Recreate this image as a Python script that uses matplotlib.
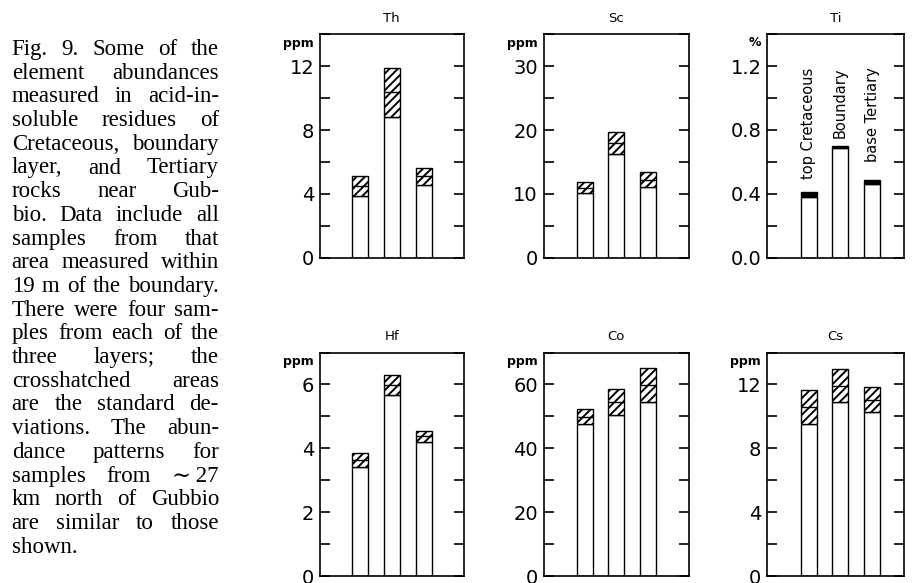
import numpy as np
import matplotlib
matplotlib.use("Agg")
import matplotlib.pyplot as plt
from matplotlib.ticker import MultipleLocator, FormatStrFormatter

plt.rcParams['hatch.linewidth'] = 1.4

# values: mean and standard deviation, three layers per element
layers = ['top Cretaceous', 'Boundary', 'base Tertiary']

th_mean = [4.5, 10.35, 5.1]
th_sd = [0.6, 1.55, 0.55]
sc_mean = [11.0, 17.95, 12.25]
sc_sd = [0.85, 1.7, 1.15]
ti_mean = [0.397, 0.695, 0.475]
ti_sd = [0.013, 0.006, 0.015]
hf_mean = [3.62, 5.98, 4.38]
hf_sd = [0.22, 0.3, 0.17]
co_mean = [49.9, 54.5, 59.7]
co_sd = [2.25, 4.0, 5.35]
cs_mean = [10.6, 11.92, 11.05]
cs_sd = [1.08, 1.02, 0.8]

caption = [
    "Fig. 9. Some of the",
    "element abundances",
    "measured in acid-in-",
    "soluble residues of",
    "Cretaceous, boundary",
    "layer, and Tertiary",
    "rocks near Gub-",
    "bio. Data include all",
    "samples from that",
    "area measured within",
    "19 m of the boundary.",
    "There were four sam-",
    "ples from each of the",
    "three layers; the",
    "crosshatched areas",
    "are the standard de-",
    "viations. The abun-",
    "dance patterns for",
    "samples from \u223c\u200927",
    "km north of Gubbio",
    "are similar to those",
    "shown.",
]

W, H = 915, 583
fig = plt.figure(figsize=(W / 100, H / 100), dpi=100)

# panels: name, unit, mean, sd, ylim top, major, minor, label format
panels = [
    ("Th", "ppm", th_mean, th_sd, 14, 4, 2, "%d"),
    ("Sc", "ppm", sc_mean, sc_sd, 35, 10, 5, "%d"),
    ("Ti", "%", ti_mean, ti_sd, 1.4, 0.4, 0.2, "%.1f"),
    ("Hf", "ppm", hf_mean, hf_sd, 7, 2, 1, "%d"),
    ("Co", "ppm", co_mean, co_sd, 70, 20, 10, "%d"),
    ("Cs", "ppm", cs_mean, cs_sd, 14, 4, 2, "%d"),
]

# axes boxes in pixels (left, right) per column and (top, bottom) per row
cols = [(320, 463.5), (543.5, 688.5), (767, 904)]
rows = [(34, 258), (352.5, 576)]
xlims = [(-1.25, 3.22), (-1.3, 3.28), (-1.31, 3.0)]

x = np.arange(3)
for k, (name, unit, mean, sd, ytop, major, minor, fmt) in enumerate(panels):
    r, c = divmod(k, 3)
    l, rr = cols[c]
    t, b = rows[r]
    ax = fig.add_axes([l / W, 1 - b / H, (rr - l) / W, (b - t) / H])
    mean = np.array(mean)
    sd = np.array(sd)
    lo = mean - sd
    ax.bar(x, lo, width=0.5, color='white', edgecolor='black', linewidth=1.0, zorder=2)
    if name == "Ti":
        ax.bar(x, 2 * sd, bottom=lo, width=0.5, color='black', edgecolor='black',
               linewidth=1.0, zorder=2)
    else:
        ax.bar(x, 2 * sd, bottom=lo, width=0.5, color='white', edgecolor='black',
               hatch='////', linewidth=1.0, zorder=2)
        ax.hlines(mean, x - 0.25, x + 0.25, color='black', linewidth=1.0, zorder=3)

    ax.set_xlim(*xlims[c])
    ax.set_ylim(0, ytop)
    ax.yaxis.set_major_locator(MultipleLocator(major))
    ax.yaxis.set_minor_locator(MultipleLocator(minor))
    ax.yaxis.set_major_formatter(FormatStrFormatter(fmt))
    ax.set_xticks([])
    ax.tick_params(axis='y', which='both', direction='in', left=True, right=True,
                   length=7, width=1.2, pad=4, labelsize=14)
    for s in ax.spines.values():
        s.set_linewidth(1.2)

    ax.text(-6 / (rr - l), 1 - 9 / (b - t), unit, transform=ax.transAxes,
            ha='right', va='center', fontsize=9, fontweight='bold')
    ax.text(0.5, 1 + 16 / (b - t), name, transform=ax.transAxes,
            ha='center', va='center', fontsize=9.5)

    if name == "Ti":
        for xi, lab in zip(x, layers):
            ax.text(xi, 1.19, lab, rotation=90, ha='center', va='top', fontsize=10.5)

# caption, justified between two margins
renderer = fig.canvas.get_renderer()
x0, x1 = 11.7, 219
fam = ['Liberation Serif', 'DejaVu Serif']
for i, line in enumerate(caption):
    words = line.split(' ')
    yb = 1 - (55 + i * 23.7) / H
    ts = [fig.text(0, yb, w, fontsize=16.5, family=fam, va='baseline') for w in words]
    widths = [t_.get_window_extent(renderer).width for t_ in ts]
    if i == len(caption) - 1 or len(words) == 1:
        gap = 5
    else:
        gap = (x1 - x0 - sum(widths)) / (len(words) - 1)
    xp = x0
    for t_, w in zip(ts, widths):
        t_.set_x(xp / W)
        xp += w + gap

fig.savefig("out.png", dpi=100)
